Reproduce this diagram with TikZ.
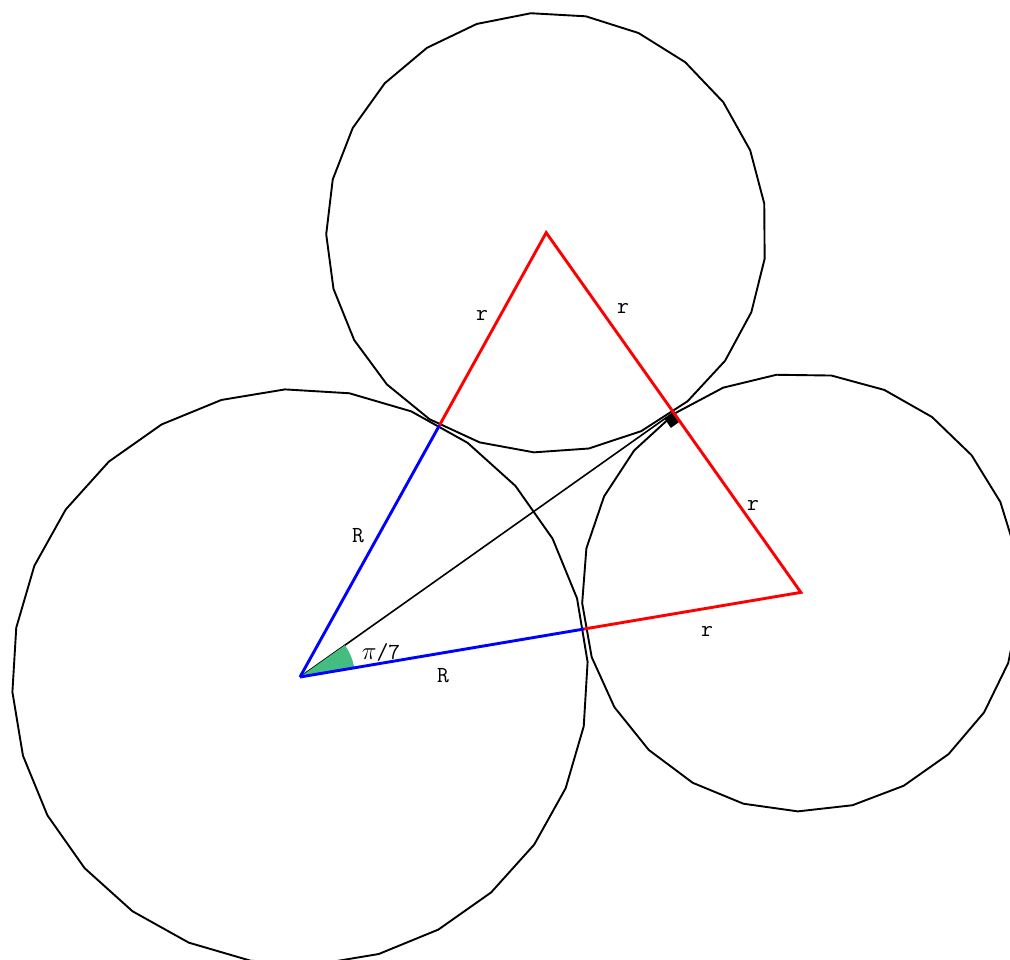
\documentclass[tikz,border=0pt]{standalone}
\usetikzlibrary{calc}
\definecolor{wedgegreen}{RGB}{68,190,128}
\begin{document}
\begin{tikzpicture}[x=1pt,y=-1pt,
  circ/.style={black,line width=1.9pt,line join=round},
  radR/.style={blue,line width=2.9pt},
  radr/.style={red,line width=2.9pt},
  aux/.style={black,line width=1.6pt},
  lbl/.style={font=\ttfamily\fontsize{23}{23}\selectfont,inner sep=0pt}]
\useasboundingbox (0,0) rectangle (1010,960);
% centres and key points
\coordinate (O) at (300,677);
\coordinate (T) at ($(O)+(-61.01:508)$);
\coordinate (Q) at ($(O)+(-9.59:508)$);
\coordinate (A) at ($(O)+(-61.01:288)$);
\coordinate (B) at ($(O)+(-9.59:288)$);
\coordinate (P) at ($(O)+(-35.3:457.7)$);
\coordinate (S1) at ($(P)!11pt!(O)$);
\coordinate (S2) at ($(P)!11pt!(Q)$);
\coordinate (S3) at ($(S1)+(S2)-(P)$);
% circles drawn as polygons
\draw[circ] plot[domain=0:360,samples=29] ({300+288*cos(\x-93)},{677+288*sin(\x-93)}) -- cycle;
\draw[circ] plot[domain=0:360,samples=26] ({546.2+220*cos(\x-94)},{232.7+220*sin(\x-94)}) -- cycle;
\draw[circ] plot[domain=0:360,samples=26] ({800.9+219*cos(\x-82)},{592.4+219*sin(\x-82)}) -- cycle;
% bisector
\draw[aux] (O) -- (P);
% angle wedge
\fill[wedgegreen] (O) -- ($(O)+(-9.59:55)$) arc[start angle=-9.59,end angle=-35.3,radius=55] -- cycle;
% right angle mark
\fill[black] (P) -- (S1) -- (S3) -- (S2) -- cycle;
% radii
\draw[radR] (O) -- (A);
\draw[radR] (O) -- (B);
\draw[radr,line join=miter] (A) -- (T) -- (Q) -- (B);
% labels
\node[lbl] (lR1) at (358,536) {R};
\node[lbl] (lR2) at (443,676) {R};
\node[lbl] (lr1) at (482,315) {r};
\node[lbl] (lr2) at (623,308) {r};
\node[lbl] (lr3) at (753,505) {r};
\node[lbl] (lr4) at (707,631) {r};
\node[lbl] (lpi) at (381,652) {$\pi$/7};
\end{tikzpicture}
\end{document}
